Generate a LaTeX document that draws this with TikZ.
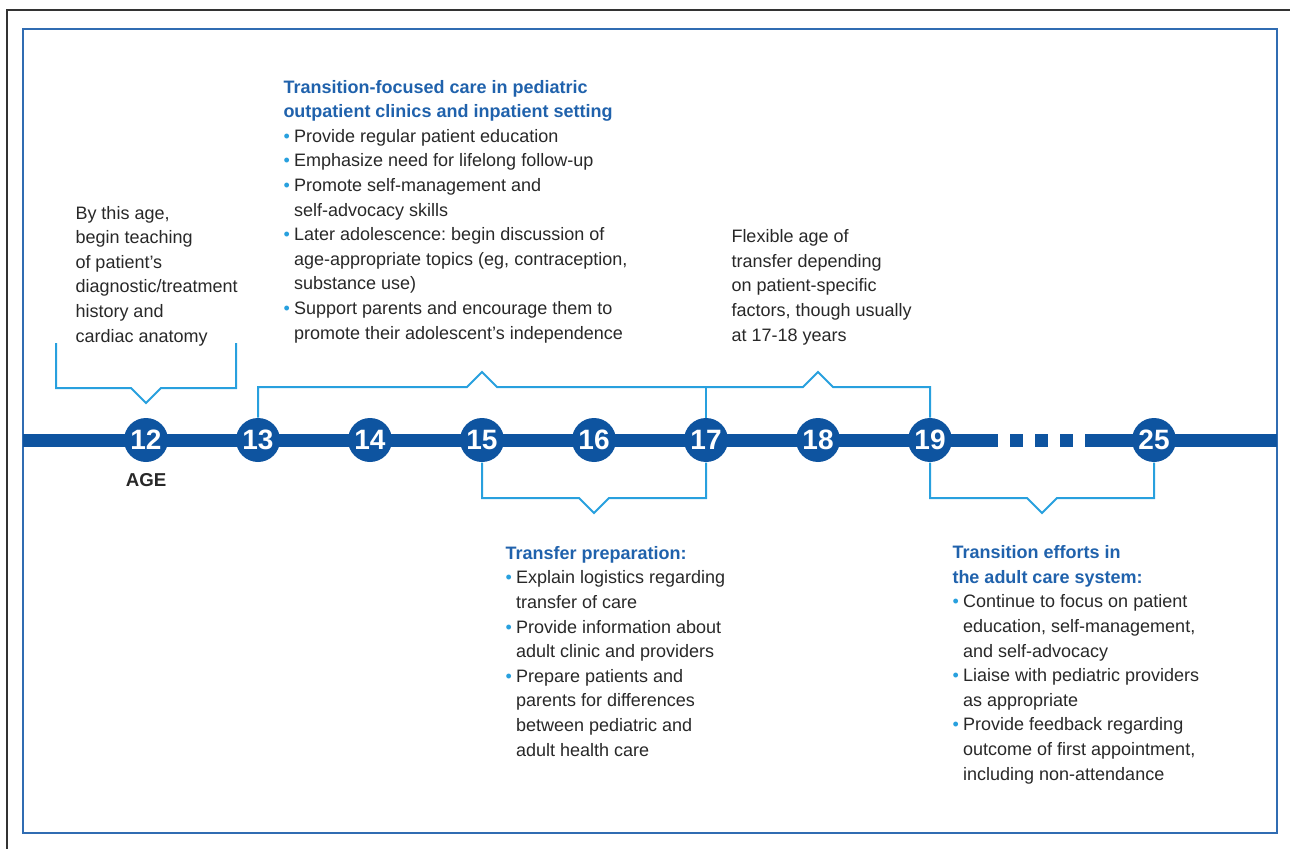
\documentclass[tikz,border=0pt]{standalone}
\usepackage{fontspec}
\setmainfont{Liberation Sans}
\frenchspacing

\definecolor{tlblue}{RGB}{14,84,160}
\definecolor{brkcyan}{RGB}{40,160,222}
\definecolor{headblue}{RGB}{32,98,172}
\definecolor{bulcyan}{RGB}{40,160,222}
\definecolor{txtgray}{RGB}{40,40,40}
\definecolor{frameblue}{RGB}{48,108,178}

\newcommand{\itm}{\makebox[8pt][l]{\color{bulcyan}\textbullet}}
\newcommand{\cnt}{\hspace*{8pt}}

\tikzset{every picture/.style={line width=0.75pt}}
\tikzset{
  agedot/.style={circle, fill=tlblue, inner sep=0pt, minimum size=33pt,
    text=white, font=\fontsize{21}{21}\selectfont\bfseries},
  brk/.style={color=brkcyan, line width=1.5, line join=miter},
  txtblock/.style={anchor=base west, inner sep=0pt, align=left, text=txtgray,
    font=\fontsize{13.5}{18.45}\selectfont},
}

\begin{document}
\begin{tikzpicture}[x=0.75pt,y=0.75pt,yscale=-1,xscale=1]
\useasboundingbox (0,0) rectangle (1290,849);

%Frames
\draw [color=black!80, line width=1.5] (7,849) -- (7,10) -- (1290,10) ;
\draw [color=frameblue, line width=2] (23,29) rectangle (1277,833) ;

%Timeline
\draw [color=tlblue, line width=9.75] (23,440) -- (998,440) ;
\draw [color=tlblue, line width=9.75] (1085,440) -- (1277,440) ;
\foreach \x in {1010,1035,1060} {
  \fill [tlblue] (\x,433.5) rectangle ++(13,13) ;
}

%Age circles
\foreach \n/\x in {12/146,13/258,14/370,15/482,16/594,17/706,18/818,19/930,25/1154} {
  \node [agedot] (a\n) at (\x,440) {\n};
}
\node [font=\fontsize{14}{14}\selectfont\bfseries, text=txtgray] (agelbl) at (146,480) {AGE};

%Bracket age 12
\draw [brk] (56,343) -- (56,388) -- (131,388) -- (146,403) -- (161,388) -- (236,388) -- (236,343) ;
%Bracket 13 to 19
\draw [brk] (a13.north) |- (467,387) -- (482,372) -- (497,387) -- (803,387) -- (818,372) -- (833,387) -| (a19.north) ;
\draw [brk] (706,387) -- (a17.north) ;
%Bracket 15 to 17
\draw [brk] (a15.south) |- (579,498) -- (594,513) -- (609,498) -| (a17.south) ;
%Bracket 19 to 25
\draw [brk] (a19.south) |- (1027,498) -- (1042,513) -- (1057,498) -| (a25.south) ;

% Text Node (anchored at the baseline of the last line)
\node [txtblock] (teachtxt) at (75,342) {By this age,\\begin teaching\\of patient's\\diagnostic/treatment\\history and\\cardiac anatomy};
% Text Node
\node [txtblock] (careitems) at (283,339) {{\color{headblue}\bfseries Transition-focused care in pediatric}\\
{\color{headblue}\bfseries outpatient clinics and inpatient setting}\\
\itm Provide regular patient education\\
\itm Emphasize need for lifelong follow-up\\
\itm Promote self-management and\\
\cnt self-advocacy skills\\
\itm Later adolescence: begin discussion of\\
\cnt age-appropriate topics (eg, contraception,\\
\cnt substance use)\\
\itm Support parents and encourage them to\\
\cnt promote their adolescent's independence};
% Text Node
\node [txtblock] (flextxt) at (731,341) {Flexible age of\\transfer depending\\on patient-specific\\factors, though usually\\at 17-18 years};
% Text Node
\node [txtblock] (prepitems) at (505,756) {{\color{headblue}\bfseries Transfer preparation:}\\
\itm Explain logistics regarding\\
\cnt transfer of care\\
\itm Provide information about\\
\cnt adult clinic and providers\\
\itm Prepare patients and\\
\cnt parents for differences\\
\cnt between pediatric and\\
\cnt adult health care};
% Text Node
\node [txtblock] (adultitems) at (952,780) {{\color{headblue}\bfseries Transition efforts in}\\
{\color{headblue}\bfseries the adult care system:}\\
\itm Continue to focus on patient\\
\cnt education, self-management,\\
\cnt and self-advocacy\\
\itm Liaise with pediatric providers\\
\cnt as appropriate\\
\itm Provide feedback regarding\\
\cnt outcome of first appointment,\\
\cnt including non-attendance};

\end{tikzpicture}
\end{document}
